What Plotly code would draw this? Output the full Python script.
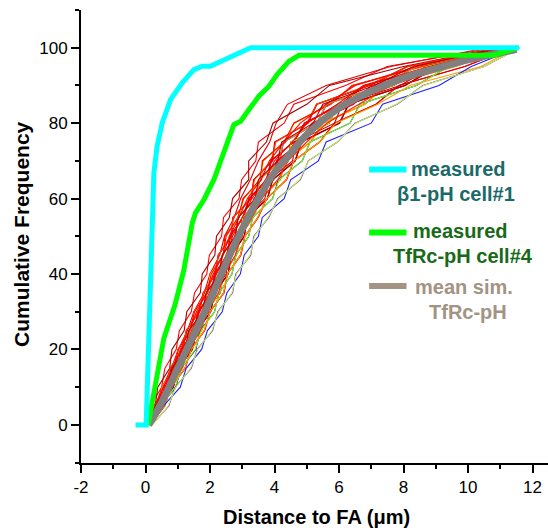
import plotly.graph_objects as go

# %%
# measured beta1-pH cell#1 (cyan)
cyan_x = [-0.31, 0.02, 0.26, 0.36, 0.52, 0.78, 1.14, 1.50, 1.76, 2.01, 3.26, 11.58]
cyan_y = [0, 0, 66.8, 73.9, 80.1, 86.3, 90.7, 94.2, 95.1, 95.1, 100, 100]

# measured TfRc-pH cell#4 (green)
green_x = [0.08, 0.57, 0.92, 1.19, 1.45, 1.55, 1.81, 2.12, 2.74, 2.95, 3.21, 3.52, 3.83, 4.08, 4.45, 4.76, 10.8, 11.55]
green_y = [0, 23.0, 32.0, 41.1, 53.5, 56.2, 59.7, 65.0, 79.6, 80.5, 83.6, 87.2, 89.8, 92.9, 96.4, 98.0, 98.0, 100]

# mean of simulations (gray)
mean_x = [0.1, 0.5, 1, 1.5, 2, 2.5, 3, 3.5, 4, 4.5, 5, 6, 7, 8, 9, 10, 11, 11.5]
mean_y = [0, 6, 15, 24, 33, 43, 52, 60, 67, 72, 77, 84, 88.5, 92, 94.5, 96.8, 98.6, 99.6]

# simulated curves: x position at each cumulative level
sim_levels = [0, 5, 10, 15, 20, 25, 30, 35, 40, 45, 50, 55, 60, 65, 70, 75, 80, 85, 90, 95, 100]
sim_x = [
    [0.0, 0.15, 0.5, 0.6, 0.95, 1.05, 1.42, 1.52, 1.9, 1.98, 2.36, 2.42, 2.9, 2.98, 3.42, 3.5, 4.3, 4.6, 6.2, 7.5, 10.8],
    [0.05, 0.3, 0.38, 0.75, 0.82, 1.2, 1.28, 1.7, 1.76, 2.15, 2.2, 2.6, 2.7, 3.2, 3.2, 3.75, 3.95, 5.0, 5.7, 8.0, 10.9],
    [0.0, 0.3, 0.52, 0.8, 1.02, 1.3, 1.5, 1.82, 2.0, 2.3, 2.45, 2.75, 2.95, 3.25, 3.5, 3.85, 4.05, 4.4, 5.6, 7.6, 10.6],
    [0.05, 0.25, 0.65, 0.76, 1.16, 1.26, 1.68, 1.78, 2.18, 2.25, 2.68, 2.7, 3.28, 3.35, 3.95, 4.0, 5.05, 5.3, 6.95, 8.1, 11.0],
    [0.0, 0.4, 0.5, 0.92, 1.0, 1.42, 1.5, 1.94, 2.0, 2.42, 2.46, 2.9, 3.02, 3.6, 3.62, 4.35, 4.6, 5.75, 6.4, 8.6, 10.95],
    [0.08, 0.26, 0.66, 0.78, 1.15, 1.28, 1.64, 1.82, 2.15, 2.26, 2.65, 2.72, 3.28, 3.36, 3.92, 4.02, 5.02, 5.32, 6.95, 8.12, 11.05],
    [0.05, 0.4, 0.52, 0.9, 1.02, 1.4, 1.52, 1.9, 2.02, 2.42, 2.5, 2.88, 3.05, 3.56, 3.66, 4.3, 4.62, 5.72, 6.45, 8.6, 11.0],
    [0.02, 0.28, 0.64, 0.76, 1.14, 1.26, 1.66, 1.8, 2.16, 2.26, 2.64, 2.72, 3.26, 3.38, 3.9, 4.04, 5.0, 5.3, 6.9, 8.15, 11.02],
    [0.06, 0.34, 0.54, 0.88, 1.02, 1.38, 1.52, 1.9, 2.04, 2.4, 2.5, 2.86, 3.04, 3.54, 3.64, 4.3, 4.6, 5.72, 6.44, 8.58, 10.98],
    [0.08, 0.44, 0.58, 1.0, 1.1, 1.52, 1.62, 2.06, 2.14, 2.54, 2.62, 3.04, 3.22, 3.78, 3.9, 4.6, 4.95, 6.05, 6.8, 8.95, 11.1],
    [0.06, 0.3, 0.72, 0.84, 1.26, 1.36, 1.8, 1.9, 2.3, 2.38, 2.78, 2.86, 3.44, 3.54, 4.16, 4.28, 5.32, 5.62, 7.3, 8.4, 11.08],
    [0.1, 0.45, 0.6, 0.98, 1.12, 1.52, 1.64, 2.04, 2.16, 2.54, 2.62, 3.02, 3.22, 3.76, 3.88, 4.6, 4.92, 6.06, 6.8, 8.95, 11.12],
    [0.07, 0.32, 0.7, 0.84, 1.24, 1.36, 1.78, 1.9, 2.3, 2.38, 2.78, 2.86, 3.44, 3.52, 4.14, 4.28, 5.3, 5.62, 7.3, 8.42, 11.1],
    [0.05, 0.42, 0.6, 0.98, 1.12, 1.5, 1.64, 2.04, 2.14, 2.54, 2.62, 3.02, 3.2, 3.76, 3.9, 4.6, 4.94, 6.06, 6.8, 8.94, 11.1],
    [0.09, 0.3, 0.72, 0.84, 1.26, 1.36, 1.8, 1.9, 2.3, 2.38, 2.78, 2.86, 3.44, 3.54, 4.16, 4.26, 5.32, 5.6, 7.3, 8.42, 11.1],
    [0.1, 0.5, 0.64, 1.08, 1.2, 1.64, 1.74, 2.2, 2.28, 2.7, 2.78, 3.2, 3.38, 3.98, 4.08, 4.85, 5.2, 6.45, 7.1, 9.3, 11.2],
    [0.08, 0.34, 0.8, 0.92, 1.36, 1.46, 1.92, 2.0, 2.44, 2.5, 2.94, 3.0, 3.62, 3.72, 4.42, 4.5, 5.7, 5.95, 7.7, 8.7, 11.2],
    [0.12, 0.48, 0.66, 1.06, 1.22, 1.62, 1.76, 2.18, 2.3, 2.68, 2.8, 3.18, 3.4, 3.96, 4.1, 4.84, 5.22, 6.42, 7.12, 9.28, 11.22],
    [0.1, 0.36, 0.78, 0.94, 1.34, 1.48, 1.9, 2.02, 2.42, 2.52, 2.92, 3.02, 3.6, 3.74, 4.4, 4.52, 5.68, 5.98, 7.68, 8.72, 11.2],
    [0.09, 0.5, 0.66, 1.06, 1.22, 1.62, 1.76, 2.18, 2.3, 2.7, 2.8, 3.2, 3.4, 3.96, 4.1, 4.84, 5.22, 6.44, 7.12, 9.28, 11.18],
    [0.11, 0.36, 0.78, 0.94, 1.34, 1.48, 1.9, 2.02, 2.42, 2.52, 2.92, 3.02, 3.6, 3.74, 4.4, 4.52, 5.68, 5.98, 7.68, 8.72, 11.2],
    [0.12, 0.55, 0.72, 1.15, 1.3, 1.74, 1.88, 2.32, 2.42, 2.82, 2.94, 3.34, 3.58, 4.18, 4.34, 5.12, 5.5, 6.8, 7.45, 9.6, 11.3],
    [0.14, 0.4, 0.86, 1.02, 1.46, 1.58, 2.02, 2.14, 2.56, 2.66, 3.06, 3.16, 3.78, 3.94, 4.64, 4.82, 6.0, 6.3, 8.05, 9.05, 11.32],
    [0.13, 0.54, 0.72, 1.14, 1.3, 1.72, 1.88, 2.3, 2.42, 2.82, 2.94, 3.34, 3.58, 4.16, 4.34, 5.12, 5.52, 6.8, 7.46, 9.6, 11.3],
    [0.11, 0.42, 0.86, 1.02, 1.44, 1.6, 2.02, 2.14, 2.56, 2.66, 3.06, 3.16, 3.78, 3.94, 4.64, 4.84, 6.02, 6.3, 8.04, 9.06, 11.3],
    [0.13, 0.54, 0.72, 1.14, 1.3, 1.72, 1.88, 2.3, 2.42, 2.82, 2.94, 3.34, 3.58, 4.16, 4.34, 5.12, 5.5, 6.8, 7.46, 9.6, 11.28],
    [0.12, 0.42, 0.86, 1.02, 1.44, 1.6, 2.02, 2.14, 2.56, 2.66, 3.06, 3.16, 3.78, 3.94, 4.64, 4.84, 6.02, 6.3, 8.04, 9.06, 11.3],
    [0.15, 0.6, 0.78, 1.24, 1.4, 1.84, 2.0, 2.44, 2.54, 2.96, 3.08, 3.5, 3.76, 4.38, 4.6, 5.4, 5.86, 7.15, 7.85, 9.9, 11.4],
    [0.16, 0.45, 0.94, 1.1, 1.56, 1.7, 2.14, 2.28, 2.68, 2.8, 3.2, 3.32, 3.94, 4.12, 4.86, 5.1, 6.34, 6.65, 8.4, 9.4, 11.42],
    [0.14, 0.58, 0.8, 1.22, 1.42, 1.82, 2.0, 2.42, 2.54, 2.94, 3.08, 3.48, 3.76, 4.36, 4.6, 5.4, 5.86, 7.14, 7.86, 9.9, 11.4],
    [0.15, 0.46, 0.92, 1.1, 1.54, 1.72, 2.14, 2.28, 2.68, 2.8, 3.2, 3.32, 3.94, 4.14, 4.86, 5.1, 6.34, 6.66, 8.4, 9.4, 11.45],
    [0.15, 0.58, 0.8, 1.22, 1.42, 1.82, 2.0, 2.42, 2.54, 2.94, 3.08, 3.48, 3.76, 4.36, 4.6, 5.4, 5.9, 7.2, 8.2, 10.4, 11.5],
    [0.2, 0.72, 0.92, 1.42, 1.6, 2.08, 2.24, 2.7, 2.8, 3.26, 3.36, 3.82, 4.1, 4.8, 5.05, 5.95, 6.5, 7.8, 8.6, 10.5, 11.6],
    [0.18, 0.55, 1.08, 1.26, 1.74, 1.92, 2.38, 2.52, 2.94, 3.06, 3.5, 3.62, 4.3, 4.5, 5.36, 5.6, 7.0, 7.35, 9.1, 10.1, 11.55],
    [0.22, 0.7, 0.94, 1.4, 1.62, 2.06, 2.26, 2.68, 2.82, 3.24, 3.38, 3.8, 4.12, 4.78, 5.06, 5.94, 6.52, 7.78, 8.62, 10.5, 11.6],
    [0.04, 0.36, 0.62, 0.9, 1.16, 1.44, 1.68, 1.98, 2.2, 2.5, 2.7, 3.0, 3.3, 3.72, 4.0, 4.55, 5.0, 5.95, 6.75, 8.8, 11.05],
    [0.1, 0.4, 0.74, 0.96, 1.3, 1.5, 1.86, 2.06, 2.4, 2.56, 2.9, 3.06, 3.5, 3.8, 4.3, 4.62, 5.5, 6.1, 7.5, 8.9, 11.2],
    [0.06, 0.46, 0.66, 1.04, 1.2, 1.6, 1.74, 2.16, 2.28, 2.68, 2.76, 3.2, 3.36, 3.96, 4.06, 4.82, 5.16, 6.4, 7.0, 9.2, 11.15],
    [0.12, 0.38, 0.8, 0.96, 1.4, 1.5, 1.96, 2.06, 2.5, 2.58, 3.0, 3.1, 3.7, 3.84, 4.56, 4.66, 5.86, 6.1, 7.9, 8.9, 11.3],
    [0.02, 0.32, 0.56, 0.86, 1.08, 1.36, 1.58, 1.9, 2.1, 2.4, 2.6, 2.9, 3.16, 3.58, 3.84, 4.3, 4.8, 5.6, 6.5, 8.4, 10.95],
    [0.14, 0.5, 0.76, 1.12, 1.34, 1.7, 1.9, 2.26, 2.44, 2.78, 2.96, 3.3, 3.6, 4.1, 4.42, 5.0, 5.62, 6.6, 7.6, 9.45, 11.35],
    [0.08, 0.42, 0.7, 1.0, 1.24, 1.56, 1.78, 2.12, 2.32, 2.64, 2.82, 3.14, 3.44, 3.9, 4.2, 4.74, 5.3, 6.3, 7.2, 9.1, 11.2],
    [0.06, 0.3, 0.68, 0.82, 1.22, 1.34, 1.76, 1.88, 2.28, 2.38, 2.78, 2.88, 3.4, 3.5, 4.1, 4.22, 5.2, 5.5, 7.1, 8.3, 11.05],
]
sim_colors = [
    '#FF0000', '#A00000', '#E00000', '#FF0000', '#FF0000', '#C00000', '#FFFF00',
    '#FF4000', '#FF0000', '#FF0000', '#E00000', '#B00000', '#00A0FF', '#FF0000',
    '#FF8000', '#FF0000', '#E00000', '#FF00FF', '#A00000', '#FF0000', '#C0FF00',
    '#FF0000', '#D00000', '#FFE000', '#FF0000', '#FF9900', '#900000', '#FF0000',
    '#0000FF', '#E00000', '#80FF00', '#FFA000', '#8000FF', '#2020FF', '#C0FF40',
    '#FF0000', '#E00000', '#FF0000', '#C00000', '#FF0000', '#FF2000', '#FF0000', '#B00000',
]

x_ticks = [-2, 0, 2, 4, 6, 8, 10, 12]
x_tick_labels = ['-2', '0', '2', '4', '6', '8', '10', '12']
y_ticks = [0, 20, 40, 60, 80, 100]
y_tick_labels = ['0', '20', '40', '60', '80', '100']

FONT = 'Arial, Liberation Sans, sans-serif'

fig = go.Figure()
for xs, col in zip(sim_x, sim_colors):
    fig.add_trace(go.Scatter(x=xs, y=sim_levels, mode='lines',
                             line=dict(color=col, width=1.1), showlegend=False))

fig.add_trace(go.Scatter(x=mean_x, y=mean_y, mode='lines', line=dict(color='#808080', width=7, shape='spline'),
                         showlegend=False))
fig.add_trace(go.Scatter(x=green_x, y=green_y, mode='lines', line=dict(color='#00FF00', width=5),
                         showlegend=False))
fig.add_trace(go.Scatter(x=cyan_x, y=cyan_y, mode='lines', line=dict(color='#00FFFF', width=5),
                         showlegend=False))

# hand made legend
legend = [
    (0.648, '#00FFFF', ['measured', 'β1-pH cell#1'], [(0.809, 0.650), (0.803, 0.594)], '#1b6a6a'),
    (0.509, '#00FF00', ['measured', 'TfRc-pH cell#4'], [(0.812, 0.513), (0.818, 0.457)], '#176a17'),
    (0.391, '#A39383', ['mean sim.', 'TfRc-pH'], [(0.820, 0.388), (0.829, 0.333)], '#A39383'),
]
for ly, lcol, texts, pos, tcol in legend:
    fig.add_shape(type='line', xref='paper', yref='paper', x0=0.617, x1=0.697, y0=ly, y1=ly,
                  line=dict(color=lcol, width=6))
    for t, (px, py) in zip(texts, pos):
        fig.add_annotation(text='<b>' + t + '</b>', xref='paper', yref='paper', x=px, y=py,
                           xanchor='center', yanchor='middle', showarrow=False,
                           font=dict(family=FONT, size=20, color=tcol))

# axis titles
fig.add_annotation(text='<b>Distance to FA (μm)</b>', xref='paper', yref='paper', x=0.5045, y=-0.119,
                   xanchor='center', yanchor='middle', showarrow=False,
                   font=dict(family=FONT, size=20, color='black'))
fig.add_annotation(text='<b>Cumulative Frequency</b>', xref='paper', yref='paper', x=-0.126, y=0.506,
                   xanchor='center', yanchor='middle', showarrow=False, textangle=-90,
                   font=dict(family=FONT, size=21, color='black'))

axis_common = dict(showline=True, linecolor='black', linewidth=2, showgrid=False, zeroline=False,
                   ticks='outside', ticklen=8, tickwidth=2, tickcolor='black', automargin=False,
                   tickfont=dict(family=FONT, size=17, color='black'))
fig.update_xaxes(range=[-2, 12.48], tickvals=x_ticks, ticktext=x_tick_labels,
                 minor=dict(ticks='outside', dtick=1, tick0=0, ticklen=4, tickwidth=2, tickcolor='black'),
                 **axis_common)
fig.update_yaxes(range=[-10.1, 110], tickvals=y_ticks, ticktext=y_tick_labels,
                 minor=dict(ticks='outside', dtick=10, tick0=0, ticklen=4, tickwidth=2, tickcolor='black'),
                 **axis_common)

fig.update_layout(width=548, height=531, margin=dict(l=81, r=0, t=10, b=68),
                  plot_bgcolor='white', paper_bgcolor='white', showlegend=False,
                  font=dict(family=FONT))
# remove the default body margin so the figure sits at the window corner
fig.write_html("out.html", config={'displayModeBar': False},
               post_script="document.body.style.margin='0';")
